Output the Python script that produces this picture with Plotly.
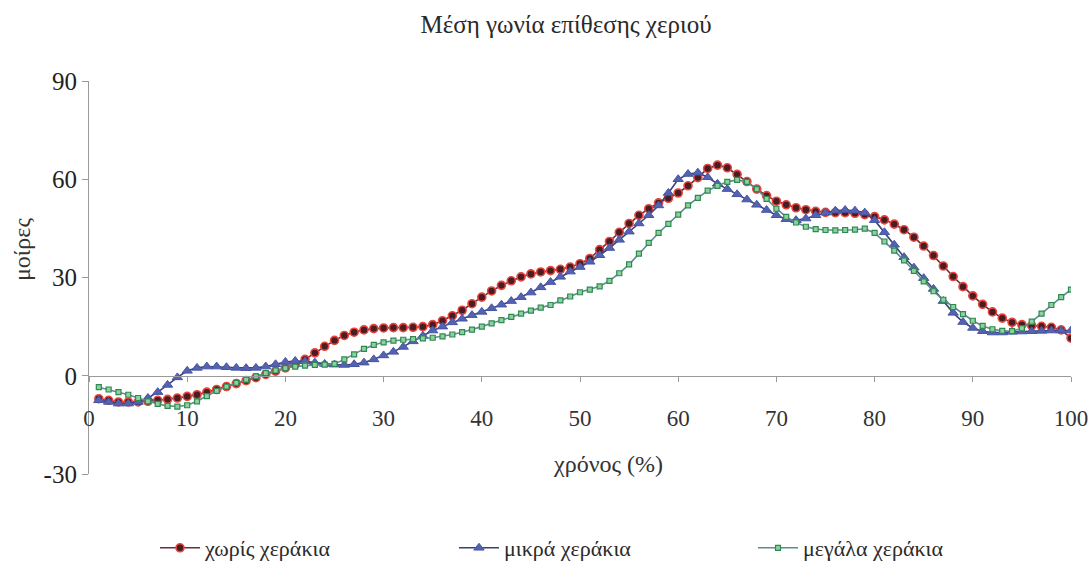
import plotly.graph_objects as go

# Time axis: percent of the stroke cycle
time_pct = list(range(1, 101))

# Mean hand angle of attack (degrees) for each paddle condition
no_paddles = [
    -7.0, -7.5, -8.0, -8.0, -8.0, -7.8, -7.5, -7.2, -6.8, -6.3,
    -5.8, -5.0, -4.2, -3.3, -2.4, -1.5, -0.6, 0.4, 1.4, 2.4,
    3.5, 5.0, 7.0, 9.0, 10.8, 12.3, 13.3, 14.0, 14.4, 14.6,
    14.7, 14.7, 14.8, 15.0, 15.6, 16.8, 18.3, 20.0, 22.0, 24.0,
    25.9, 27.6, 29.0, 30.2, 31.1, 31.7, 32.1, 32.5, 33.2, 34.2,
    35.8, 38.5, 41.0, 43.8, 46.5, 49.0, 51.0, 52.8, 54.2, 55.8,
    58.0, 60.5, 63.3, 64.3, 63.5, 61.5, 59.3, 57.0, 55.0, 53.3,
    52.2, 51.3, 50.7, 50.2, 49.9, 49.8, 49.8, 49.6, 49.2, 48.6,
    47.6, 46.3, 44.6, 42.3, 39.6, 36.7, 33.5, 30.3, 27.2, 24.4,
    21.8, 19.5, 17.6, 16.3, 15.6, 15.3, 15.1, 14.8, 14.0, 11.5,
]

small_paddles = [
    -7.5, -8.0, -8.5, -8.5, -8.0, -6.8, -5.0, -2.8, -0.5, 1.5,
    2.4, 2.8, 2.8, 2.6, 2.4, 2.3, 2.4, 2.8, 3.5, 4.2,
    4.5, 4.4, 4.0, 3.6, 3.4, 3.3, 3.5, 4.0, 5.0, 6.2,
    7.3, 8.8, 10.5, 12.2, 13.8, 15.0, 16.3, 17.4, 18.5, 19.5,
    20.6, 21.7, 22.8, 24.0, 25.4, 27.0, 28.6, 30.2, 31.8, 33.2,
    34.8, 36.8, 39.0, 41.5, 44.0, 46.5, 49.0, 52.0, 55.8, 60.0,
    61.6, 62.0, 60.6, 58.6, 57.0, 55.4, 53.8, 52.2, 50.6, 49.0,
    47.8, 47.5, 48.0, 49.0, 49.8, 50.4, 50.6, 50.4, 49.8, 47.5,
    43.8, 40.0, 36.2, 33.0, 29.8, 26.5, 22.8, 19.2, 16.4, 14.6,
    13.6, 13.2, 13.2, 13.4, 13.5, 13.6, 13.7, 13.8, 13.8, 13.8,
]

large_paddles = [
    -3.5, -4.2, -5.0, -5.8, -6.8, -7.8, -8.6, -9.2, -9.4, -9.0,
    -7.8, -6.2, -4.6, -3.3, -2.2, -1.2, -0.2, 0.8, 1.6, 2.3,
    2.8, 3.1, 3.3, 3.4, 3.6, 5.0, 6.5, 8.2, 9.4, 10.2,
    10.7, 11.0, 11.2, 11.4, 11.6, 12.0, 12.6, 13.3, 14.1, 15.0,
    16.0, 17.0, 18.0, 19.0, 19.9, 20.8, 21.6, 23.0, 24.2, 25.5,
    26.3, 27.3, 29.0, 31.3, 34.0, 37.3, 40.6, 43.6, 46.4, 49.2,
    52.0, 54.3, 56.5, 58.0, 59.2, 59.8, 59.2, 57.0, 54.0, 51.0,
    48.5, 46.8, 45.5, 44.8, 44.5, 44.4, 44.5, 44.6, 44.9, 43.6,
    41.0, 38.2, 35.2, 32.0, 28.8, 25.8, 23.2, 21.0, 18.8, 16.8,
    15.2, 14.2, 13.7, 13.6, 14.5, 16.5, 19.0, 21.6, 24.0, 26.3,
]

series_names = ["χωρίς χεράκια", "μικρά χεράκια", "μεγάλα χεράκια"]
x_ticks = [0, 10, 20, 30, 40, 50, 60, 70, 80, 90, 100]
y_ticks = [-30, 0, 30, 60, 90]

SERIF = "Liberation Serif"
AXIS_GRAY = "#9a9a9a"

fig = go.Figure()

fig.add_trace(go.Scatter(
    x=time_pct, y=no_paddles, name=series_names[0], mode="lines+markers",
    line=dict(color="#6e2c3c", width=1.6),
    marker=dict(symbol="circle", size=8, color="#4a1c24",
                line=dict(color="#e8463c", width=1.6)),
))
fig.add_trace(go.Scatter(
    x=time_pct, y=small_paddles, name=series_names[1], mode="lines+markers",
    line=dict(color="#3b4176", width=1.6),
    marker=dict(symbol="triangle-up", size=9, color="#5463b0",
                line=dict(color="#4654a4", width=1)),
))
fig.add_trace(go.Scatter(
    x=time_pct, y=large_paddles, name=series_names[2], mode="lines+markers",
    line=dict(color="#5f8c90", width=1.6),
    marker=dict(symbol="square", size=5, color="#8fd0a0",
                line=dict(color="#2e8a50", width=1.2)),
))

fig.update_layout(
    width=1092, height=585,
    margin=dict(l=89, r=21, t=81, b=111, autoexpand=False),
    paper_bgcolor="white", plot_bgcolor="white",
    font=dict(family=SERIF, size=22, color="#333333"),
    title=dict(text="Μέση γωνία επίθεσης χεριού", x=566 / 1092, xanchor="center",
               y=1 - 24 / 585, yanchor="middle",
               font=dict(family=SERIF, size=25, color="#2a2a2a")),
    showlegend=True,
    legend=dict(orientation="h", xref="container", yref="container",
                x=155 / 1092, xanchor="left", y=1 - 548 / 585, yanchor="middle",
                itemwidth=40, entrywidth=244, entrywidthmode="pixels",
                font=dict(family=SERIF, size=22, color="#2a2a2a"),
                bgcolor="rgba(0,0,0,0)"),
    xaxis=dict(
        range=[0, 100], tickvals=x_ticks, ticktext=[str(v) for v in x_ticks],
        anchor="free", position=0.25,
        showline=True, linecolor=AXIS_GRAY, linewidth=1.2,
        ticks="outside", ticklen=5, tickcolor=AXIS_GRAY,
        ticklabelstandoff=17,
        showgrid=False, zeroline=False,
        tickfont=dict(family=SERIF, size=23, color="#333333"),
    ),
    yaxis=dict(
        range=[-30, 90], tickvals=y_ticks, ticktext=[str(v) for v in y_ticks],
        showline=True, linecolor=AXIS_GRAY, linewidth=1.2,
        ticks="outside", ticklen=6, tickcolor=AXIS_GRAY,
        ticklabelstandoff=0,
        showgrid=False, zeroline=False,
        tickfont=dict(family=SERIF, size=25, color="#222222"),
    ),
    annotations=[
        dict(text="χρόνος (%)", xref="paper", yref="paper",
             x=(608 - 89) / 982, y=(474 - 464) / 393, xanchor="center", yanchor="middle",
             showarrow=False, font=dict(family=SERIF, size=24, color="#333333")),
        dict(text="μοίρες", xref="paper", yref="paper", textangle=-90,
             x=(22 - 89) / 982, y=(474 - 250) / 393, xanchor="center", yanchor="middle",
             showarrow=False, font=dict(family=SERIF, size=24, color="#333333")),
    ],
)

fig.write_html("out.html")
